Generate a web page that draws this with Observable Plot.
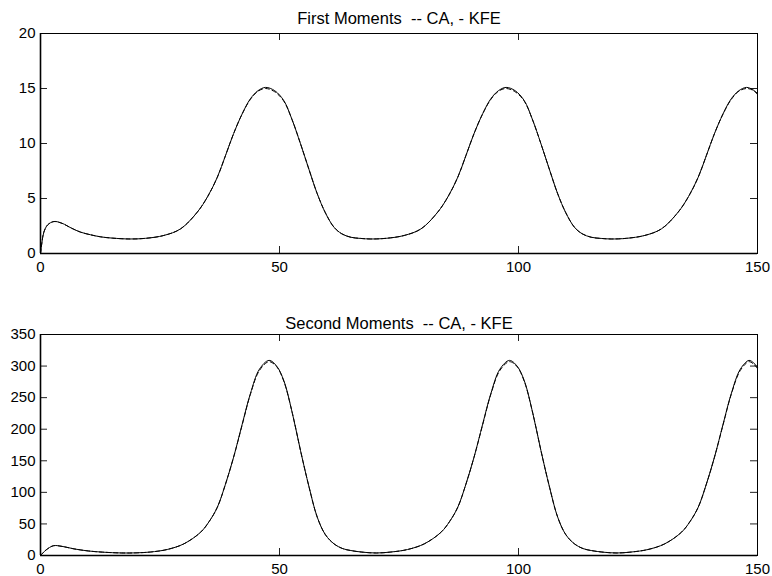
<!DOCTYPE html>
<html>
<head>
<meta charset="utf-8">
<script src="https://cdn.jsdelivr.net/npm/d3@7"></script>
<script src="https://cdn.jsdelivr.net/npm/@observablehq/plot@0.6"></script>
<style>
  html, body { margin: 0; padding: 0; background: #fff; }
  #chart { width: 772px; height: 576px; }
  #chart svg { display: block; }
</style>
</head>
<body>
<div id="chart"></div>
<script>
// ---- Data ----
const xTicks = [0, 50, 100, 150];
const yTicksFirst = [0, 5, 10, 15, 20];
const yTicksSecond = [0, 50, 100, 150, 200, 250, 300, 350];
const titleFirst = "First Moments  -- CA, - KFE";
const titleSecond = "Second Moments  -- CA, - KFE";

// First moments
const timeFirst = [0,0.3,0.7,1.5,2.8,4.5,6.5,8.4,10.5,12.5,15,18.8,22,25.8,29.3,32.8,35,37,38.7,40.4,42.2,43.9,45.5,47.1,49,50.9,52.6,54.4,56.2,57.9,59.6,61.4,63,64.9,67,69.1,72.3,76.1,79.6,83.1,85.3,87.3,89,90.7,92.5,94.2,95.8,97.4,99.3,101.2,102.9,104.7,106.5,108.2,109.9,111.7,113.3,115.2,117.3,119.4,122.6,126.4,129.9,133.4,135.6,137.6,139.3,141,142.8,144.5,146.1,147.7,149,150];
const kfeFirst = [0,1.0,1.94,2.6,2.91,2.75,2.3,1.94,1.7,1.52,1.40,1.32,1.38,1.64,2.24,3.76,5.2,6.94,8.9,10.9,12.7,14.06,14.8,15.1,14.8,13.9,12.2,9.97,7.6,5.43,3.7,2.39,1.8,1.48,1.37,1.32,1.38,1.64,2.24,3.76,5.2,6.94,8.9,10.9,12.7,14.06,14.8,15.1,14.8,13.9,12.2,9.97,7.6,5.43,3.7,2.39,1.8,1.48,1.37,1.32,1.38,1.64,2.24,3.76,5.2,6.94,8.9,10.9,12.7,14.06,14.8,15.1,14.9,14.55];
const caFirst  = [0,1.0,1.94,2.6,2.9,2.74,2.3,1.94,1.7,1.52,1.40,1.32,1.38,1.64,2.24,3.76,5.2,6.94,8.9,10.9,12.7,14.0,14.75,15.0,14.7,13.85,12.2,9.97,7.6,5.43,3.7,2.39,1.8,1.48,1.37,1.32,1.38,1.64,2.24,3.76,5.2,6.94,8.9,10.9,12.7,14.0,14.75,15.0,14.7,13.85,12.2,9.97,7.6,5.43,3.7,2.39,1.8,1.48,1.37,1.32,1.38,1.64,2.24,3.76,5.2,6.94,8.9,10.9,12.7,14.0,14.75,15.0,14.85,14.45];

// Second moments
const timeSecond = [0,0.5,1.2,2.7,4.5,7,10,13,17,20,23,26.5,30,33.5,35.3,37,38.7,40.4,42.2,43.9,45.8,47.8,49.4,50.9,52.7,54.4,56.2,57.9,59.6,61.4,63.2,64.9,67.5,70.3,73.3,76.8,80.3,83.8,85.6,87.3,89,90.7,92.5,94.2,96.1,98.1,99.7,101.2,103,104.7,106.5,108.2,109.9,111.7,113.5,115.2,117.8,120.6,123.6,127.1,130.6,134.1,135.9,137.6,139.3,141,142.8,144.5,146.4,148.2,149.2,150];
const kfeSecond = [0,4,9,15.5,14.5,10.5,7.2,5.3,4.0,4.2,5.5,9.5,18.5,36.9,54,76.5,113,155.7,208,256,295,309,300,277,225,166,108,60.7,33,18.5,11,7.9,5.2,4.0,5.5,9.5,18.5,36.9,54,76.5,113,155.7,208,256,295,309,300,277,225,166,108,60.7,33,18.5,11,7.9,5.2,4.0,5.5,9.5,18.5,36.9,54,76.5,113,155.7,208,256,295,309,305,298];
const caSecond  = [0,4,9,15.4,14.4,10.5,7.2,5.3,4.0,4.2,5.5,9.5,18.5,36.9,54,76.5,113,155.7,207,255,293,307,299,276,225,166,108,60.7,33,18.5,11,7.9,5.2,4.0,5.5,9.5,18.5,36.9,54,76.5,113,155.7,207,255,293,307,299,276,225,166,108,60.7,33,18.5,11,7.9,5.2,4.0,5.5,9.5,18.5,36.9,54,76.5,113,155.7,207,255,293,307,303,296];

// ---- Drawing ----
const W = 772, H = 288;
const mLeft = 40, mRight = 15, tickLen = 7;
const font = "'Liberation Sans', Arial, Helvetica, sans-serif";

function panel({time, ca, kfe, yTicks, title, marginTop, marginBottom, titleGap}) {
  const rows = time.map((t, i) => ({t, ca: ca[i], kfe: kfe[i]}));
  const innerW = W - mLeft - mRight;
  const innerH = H - marginTop - marginBottom;
  const yMax = yTicks[yTicks.length - 1];
  return Plot.plot({
    width: W, height: H,
    marginLeft: mLeft, marginRight: mRight, marginTop, marginBottom,
    style: {fontFamily: font, fontSize: "15px", background: "#fff", color: "#000"},
    x: {domain: [0, 150]},
    y: {domain: [0, yMax]},
    marks: [
      Plot.axisX({ticks: xTicks, tickSize: 0, tickPadding: 8, label: null, fontSize: 15}),
      Plot.axisY({ticks: yTicks, tickSize: 0, tickPadding: 5, label: null, fontSize: 15}),
      // inward ticks on all four sides
      Plot.tickX(xTicks, {x: d => d, insetTop: innerH - tickLen, stroke: "#222"}),
      Plot.tickX(xTicks, {x: d => d, insetBottom: innerH - tickLen, stroke: "#222"}),
      Plot.tickY(yTicks, {y: d => d, insetRight: innerW - tickLen, stroke: "#222"}),
      Plot.tickY(yTicks, {y: d => d, insetLeft: innerW - tickLen, stroke: "#222"}),
      Plot.line(rows, {x: "t", y: "ca", stroke: "#000", strokeWidth: 1, strokeDasharray: "4,3", curve: "catmull-rom"}),
      Plot.line(rows, {x: "t", y: "kfe", stroke: "#000", strokeWidth: 1, curve: "catmull-rom"}),
      Plot.frame({stroke: "#000", strokeWidth: 1}),
      Plot.ruleX([0], {stroke: "#000", strokeWidth: 1.6}),
      Plot.ruleY([0], {stroke: "#000", strokeWidth: 1.6}),
      Plot.text([title], {frameAnchor: "top", dy: -titleGap, lineAnchor: "bottom", fontSize: 16.5, fill: "#000"})
    ]
  });
}

const el = document.getElementById("chart");
el.append(panel({time: timeFirst, ca: caFirst, kfe: kfeFirst, yTicks: yTicksFirst, title: titleFirst, marginTop: 33, marginBottom: 35, titleGap: 10}));
el.append(panel({time: timeSecond, ca: caSecond, kfe: kfeSecond, yTicks: yTicksSecond, title: titleSecond, marginTop: 46, marginBottom: 21, titleGap: 6}));
</script>
</body>
</html>
